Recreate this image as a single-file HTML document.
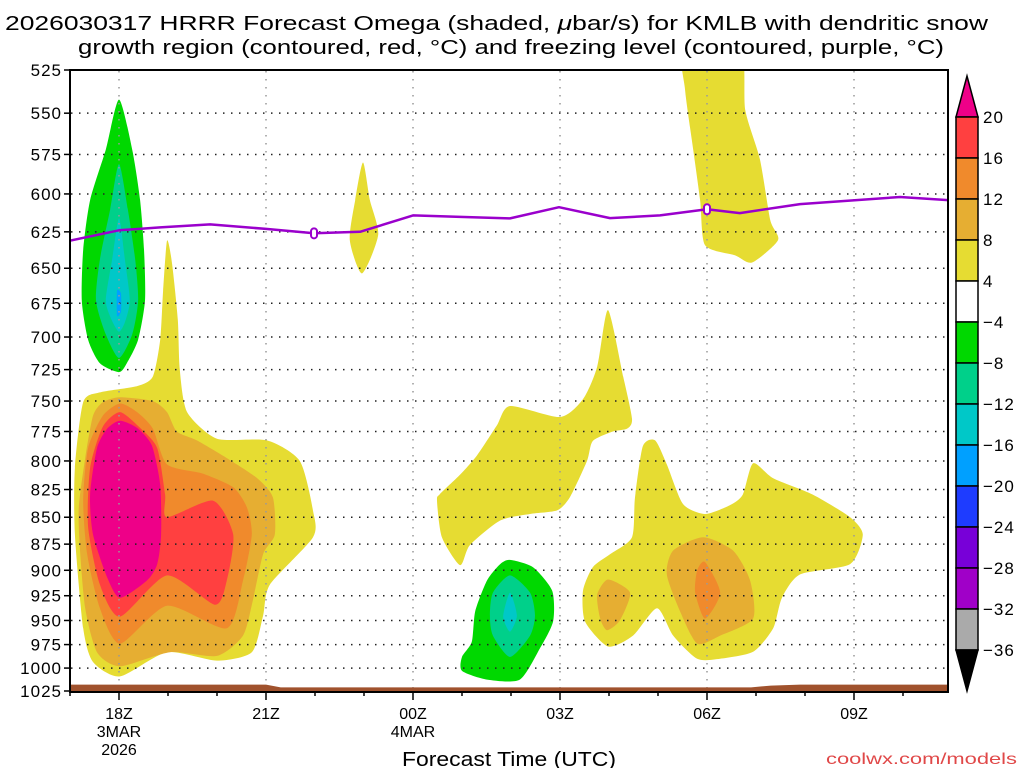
<!DOCTYPE html>
<html><head><meta charset="utf-8"><style>
html,body{margin:0;padding:0;background:#fff;}
svg{display:block;font-family:"Liberation Sans",sans-serif;}
</style></head><body>
<svg id="chart" width="1024" height="768" viewBox="0 0 1024 768">
<text x="5" y="30" font-size="20" textLength="983" lengthAdjust="spacingAndGlyphs">2026030317 HRRR Forecast Omega (shaded, <tspan font-style="italic">μ</tspan>bar/s) for KMLB with dendritic snow</text>
<text x="78" y="54" font-size="20" textLength="866" lengthAdjust="spacingAndGlyphs">growth region (contoured, red, °C) and freezing level (contoured, purple, °C)</text>
<text x="509" y="766" font-size="20" text-anchor="middle" textLength="214" lengthAdjust="spacingAndGlyphs">Forecast Time (UTC)</text>
<text x="826" y="764" font-size="16" fill="#e04848" textLength="191" lengthAdjust="spacingAndGlyphs">coolwx.com/models</text>
<defs><clipPath id="plotclip"><rect x="70" y="70" width="878" height="622"/></clipPath></defs>
<g id="shades" clip-path="url(#plotclip)"></g>
<g id="grid"></g>
<g id="ground" clip-path="url(#plotclip)"></g>
<g id="frz" clip-path="url(#plotclip)"></g>
<rect x="70" y="70" width="878" height="622" fill="none" stroke="#000" stroke-width="2"/>
<g id="axes"></g>
<g id="cbar"></g>
</svg>
<script>
// ---- data ----
const pressureTicks=[525,550,575,600,625,650,675,700,725,750,775,800,825,850,875,900,925,950,975,1000,1025];
const timeTicks=[18,21,24,27,30,33];
const timeLabels=[["18Z","3MAR","2026"],["21Z"],["00Z","4MAR"],["03Z"],["06Z"],["09Z"]];
const cbLevels=[20,16,12,8,4,-4,-8,-12,-16,-20,-24,-28,-32,-36];
const cbColors=["#ff4040","#f08a2c","#e6ae32","#e6dc32","#ffffff","#00d800","#00d08a","#00c8c8","#00a0ff","#1e3cff","#7800d8","#a000c8","#aaaaaa"];
const freezeLine=[[17,631],[18,624],[18.84,622],[19.86,620],[21,623],[21.98,626],[22.92,625],[24,614],[24.96,615],[25.98,616],[26.98,608.6],[28.02,615.8],[29.04,614],[30,610],[30.67,612.5],[31.9,606.6],[33.94,602],[34.92,604]];
const freezeLabelTimes=[21.98,30];
const groundSurface=[[16.5,1018],[21,1018],[21.3,1021],[30.9,1021],[31.3,1019],[31.9,1018],[35.5,1018]];
const yellowLeft=[[18.98,631],[19.08,646],[19.2,687],[19.24,725],[19.39,759],[20,781],[21.02,782.5],[21.69,800],[21.96,844],[21.96,868.5],[21.08,914],[20.94,945],[20.71,983],[20,992],[18.98,983],[18.02,1009],[17.47,993.5],[17.27,958],[17.1,866],[17.1,806],[17.27,751],[17.61,743],[18.37,738],[18.69,730.5],[18.84,702],[18.9,666]];
const ltOrangeLeft=[[18.02,747],[18.69,750],[18.98,759],[19.18,775],[19.59,782.5],[20.2,797.5],[20.82,815],[21.14,832],[21.18,866],[20.94,884.6],[20.73,930],[20.53,965.6],[20,987],[19.04,983],[18.02,998],[17.55,983],[17.31,937.5],[17.2,878],[17.18,841],[17.31,797.5],[17.47,762],[17.67,751]];
const orangeLeft=[[18.02,752],[18.37,759],[18.69,772.6],[18.98,803],[19.71,811],[20.33,823],[20.61,841],[20.71,866],[20.53,910],[20.2,958],[18.98,935],[18.02,974],[17.61,937.5],[17.35,884.6],[17.27,835],[17.37,789],[17.67,762]];
const redLeft=[[18.02,759],[18.43,772],[18.78,789],[18.94,829.5],[18.98,850],[19.92,835],[20.33,866],[20.2,910],[19.96,934],[18.98,905],[18.02,946],[17.61,914],[17.37,859],[17.41,806],[17.67,771]];
const pinkLeft=[[18.02,766],[18.37,772],[18.67,786.7],[18.84,820.7],[18.86,866],[18.78,894],[18.57,910],[18.02,927],[17.76,907],[17.47,866],[17.41,829.5],[17.55,789],[17.76,772.6]];
const greenUpper=[[18,542],[18.27,572],[18.43,604],[18.51,637],[18.53,673],[18.39,702],[18.16,720],[18,727],[17.61,720],[17.37,702],[17.24,673],[17.27,637],[17.41,604],[17.73,572]];
const tealUpper=[[18,581],[18.18,610],[18.33,644],[18.39,673],[18.27,698],[18,716],[17.73,698],[17.53,673],[17.61,644],[17.82,610]];
const cyanUpper=[[18,616],[18.12,644],[18.22,673],[18.12,689],[18,696],[17.86,688],[17.73,673],[17.86,644]];
const blueUpper=[[17.96,666],[18.04,668],[18.04,681],[17.96,684]];
const yellowMid=[[24.49,835],[24.59,868.5],[24.96,895],[25.16,876],[25.78,853],[26.39,847],[26.94,843.75],[27.2,832],[27.55,800],[27.67,783],[28.08,775],[28.37,772.6],[28.47,764.5],[28.29,730.5],[27.98,680],[27.76,722.7],[27.47,748.4],[27,763],[25.98,754],[25.71,770],[25.31,795],[24.96,812],[24.55,829]];
const greenLow=[[25.98,890],[26.45,897],[26.84,920],[26.86,951],[26.59,979],[26.18,1012.5],[25.51,1012.5],[25,1003],[25,988],[25.2,972],[25.27,940.6],[25.51,910],[25.78,894]];
const tealLow=[[25.98,905],[26.39,922],[26.49,944.8],[26.39,965.6],[25.98,988],[25.63,965.6],[25.57,944.8],[25.63,922]];
const cyanLow=[[25.98,922],[26.12,945],[25.98,961.5],[25.84,946]];
const yellowRight=[[27.47,920],[27.51,951],[27.98,977],[28.49,965.6],[28.98,937.5],[29.31,965.6],[29.8,990],[30.27,990],[30.94,982.6],[31.35,958],[31.53,927],[31.9,904],[32.92,894],[33.18,866],[32.92,850],[32.16,829.5],[31.35,815],[30.94,802],[30.73,829.5],[30.47,839],[29.96,847],[29.51,838],[29.18,803],[28.94,782.5],[28.69,787.5],[28.53,832],[28.47,868.5],[28.02,884.6],[27.67,897]];
const ltOrangeSmall=[[27.98,909],[28.43,922],[28.22,950],[27.96,960],[27.82,948],[27.76,924]];
const ltOrangeRight=[[29.92,868.5],[30.53,881],[30.88,910],[30.94,948],[30.27,965.6],[29.8,974],[29.45,940.6],[29.18,904],[29.31,881]];
const orangeRight=[[29.96,892],[30.27,922],[29.96,948],[29.76,922],[29.8,900]];
const yellowTop=[[29.51,510],[30.67,510],[30.78,548],[31.08,578],[31.29,617],[31.45,630.6],[30.92,646],[30.57,641],[29.96,634],[29.86,604],[29.69,566],[29.55,536]];
const yellowSmall=[[22.98,580],[23.12,604],[23.29,627],[22.96,653.6],[22.71,630.6],[22.82,604]];

// ---- axes ----
const X0=119, PXH=49, Y0=70, YH=621, PTOP=525, PBOT=1025;
function xs(h){return X0+(h-18)*PXH;}
function ys(p){return Y0+Math.log(p/PTOP)/Math.log(PBOT/PTOP)*YH;}
const NS="http://www.w3.org/2000/svg";
function mk(tag,attrs,parent){const e=document.createElementNS(NS,tag);for(const k in attrs)e.setAttribute(k,attrs[k]);parent.appendChild(e);return e;}
function pts(arr){return arr.map(d=>xs(d[0]).toFixed(1)+","+ys(d[1]).toFixed(1)).join(" ");}
function smoothPath(arr,k){
 const P=arr.map(d=>[xs(d[0]),ys(d[1])]);const n=P.length;
 let s="M"+P[0][0].toFixed(1)+","+P[0][1].toFixed(1);
 for(let i=0;i<n;i++){
  const p0=P[(i-1+n)%n],p1=P[i],p2=P[(i+1)%n],p3=P[(i+2)%n];
  const c1=[p1[0]+(p2[0]-p0[0])*k/6,p1[1]+(p2[1]-p0[1])*k/6];
  const c2=[p2[0]-(p3[0]-p1[0])*k/6,p2[1]-(p3[1]-p1[1])*k/6];
  s+=" C"+c1[0].toFixed(1)+","+c1[1].toFixed(1)+" "+c2[0].toFixed(1)+","+c2[1].toFixed(1)+" "+p2[0].toFixed(1)+","+p2[1].toFixed(1);
 }
 return s+"Z";
}

const shades=document.getElementById('shades');
const regions=[
 ["yellow-left",yellowLeft,"#e6dc32"],["light-orange-left",ltOrangeLeft,"#e6ae32"],["orange-left",orangeLeft,"#f08a2c"],["red-left",redLeft,"#ff4040"],["pink-left",pinkLeft,"#ee0088"],
 ["green-upper",greenUpper,"#00d800"],["teal-upper",tealUpper,"#00d08a"],["cyan-upper",cyanUpper,"#00c8c8"],["blue-upper",blueUpper,"#00a0ff"],
 ["yellow-mid",yellowMid,"#e6dc32"],["green-low",greenLow,"#00d800"],["teal-low",tealLow,"#00d08a"],["cyan-low",cyanLow,"#00c8c8"],
 ["yellow-right",yellowRight,"#e6dc32"],["light-orange-small",ltOrangeSmall,"#e6ae32"],["light-orange-right",ltOrangeRight,"#e6ae32"],["orange-right",orangeRight,"#f08a2c"],
 ["yellow-top",yellowTop,"#e6dc32"],["yellow-small",yellowSmall,"#e6dc32"]];
regions.forEach(r=>{
 const e=mk('path',{d:smoothPath(r[1],0.7),fill:r[2]},shades);
 
 
});

// grid
const grid=document.getElementById('grid');
pressureTicks.forEach(p=>{
 if(p===525||p===1025)return;
 const e=mk('line',{x1:71,x2:947,y1:ys(p),y2:ys(p),stroke:'#222','stroke-width':1.5,'stroke-dasharray':'1.5 6.5'},grid);
 
 
});
timeTicks.forEach(h=>{
 const e=mk('line',{x1:xs(h),x2:xs(h),y1:71,y2:691,stroke:'#999','stroke-width':1.5,'stroke-dasharray':'1.5 6.5'},grid);
 
 
});

// ground
const ground=document.getElementById('ground');
const gpts=pts(groundSurface)+" "+xs(35.5)+",700 "+xs(16.5)+",700";
const ge=mk('polygon',{points:gpts,fill:'#a0522d'},ground);



// freezing line
const frz=document.getElementById('frz');
const fl=mk('polyline',{points:pts(freezeLine),fill:'none',stroke:'#9a00cc','stroke-width':2.5,'stroke-linejoin':'round'},frz);


function interpP(h){for(let i=0;i<freezeLine.length-1;i++){const a=freezeLine[i],b=freezeLine[i+1];if(h>=a[0]&&h<=b[0]){return a[1]+(b[1]-a[1])*(h-a[0])/(b[0]-a[0]);}}return freezeLine[0][1];}
freezeLabelTimes.forEach(h=>{
 const cx=xs(h),cy=ys(interpP(h));
 const l=mk('rect',{x:cx-3,y:cy-5,width:6,height:10,rx:3,fill:'#fff',stroke:'#9a00cc','stroke-width':2},frz);
 
 
});

// axes labels
const axes=document.getElementById('axes');
pressureTicks.forEach(p=>{
 const t=mk('text',{x:62,y:ys(p)+6,'font-size':17,'text-anchor':'end','letter-spacing':1},axes);
 t.textContent=p;
 
 
 const tk=mk('line',{x1:64,x2:70,y1:ys(p),y2:ys(p),stroke:'#000','stroke-width':1.5},axes);
 
 
});
for(let h=17;h<=34;h++){
 const big=timeTicks.includes(h);
 const tk=mk('line',{x1:xs(h),x2:xs(h),y1:692,y2:big?700:696,stroke:'#000','stroke-width':1.5},axes);
 
 
}
timeTicks.forEach((h,i)=>{
 timeLabels[i].forEach((s,j)=>{
  const t=mk('text',{x:xs(h),y:719+j*18,'font-size':16,'text-anchor':'middle'},axes);
  t.textContent=s;
  
  
 });
});

// colorbar
const cb=document.getElementById('cbar');
const CBX=956,CBW=22,CBTOP=117,STEP=41;
const tri=mk('polygon',{points:`${CBX},${CBTOP} ${CBX+CBW},${CBTOP} ${CBX+CBW/2},76`,fill:'#ee0088',stroke:'#000','stroke-width':1.5},cb);


cbColors.forEach((c,i)=>{
 const r=mk('rect',{x:CBX,y:CBTOP+i*STEP,width:CBW,height:STEP,fill:c,stroke:'#000','stroke-width':1.5},cb);
 
 
});
const bot=CBTOP+cbColors.length*STEP;
const tri2=mk('polygon',{points:`${CBX},${bot} ${CBX+CBW},${bot} ${CBX+CBW/2},${bot+41}`,fill:'#000',stroke:'#000','stroke-width':1.5},cb);


cbLevels.forEach((v,i)=>{
 const t=mk('text',{x:983,y:CBTOP+i*STEP+6,'font-size':17,'letter-spacing':1},cb);
 t.textContent=v<0?"\u2212"+(-v):String(v);
 
 
});
</script>
</body></html>
